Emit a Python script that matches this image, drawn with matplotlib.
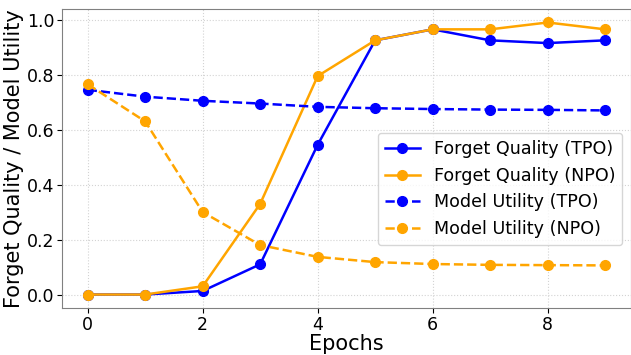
import matplotlib
matplotlib.use("Agg")
import matplotlib.pyplot as plt

epochs = [0, 1, 2, 3, 4, 5, 6, 7, 8, 9]
fq_tpo = [0.0, 0.0, 0.013, 0.11, 0.545, 0.925, 0.965, 0.925, 0.915, 0.925]
fq_npo = [0.0, 0.0, 0.03, 0.33, 0.795, 0.925, 0.965, 0.965, 0.99, 0.965]
mu_tpo = [0.745, 0.72, 0.705, 0.695, 0.683, 0.678, 0.675, 0.673, 0.672, 0.67]
mu_npo = [0.765, 0.63, 0.30, 0.18, 0.137, 0.118, 0.111, 0.108, 0.107, 0.106]

fig, ax = plt.subplots(figsize=(6.31, 3.55), dpi=100)
ax.plot(epochs, fq_tpo, color='blue', marker='o', markersize=7, linewidth=1.8, label='Forget Quality (TPO)')
ax.plot(epochs, fq_npo, color='orange', marker='o', markersize=7, linewidth=1.8, label='Forget Quality (NPO)')
ax.plot(epochs, mu_tpo, color='blue', marker='o', markersize=7, linewidth=1.8, linestyle='--', label='Model Utility (TPO)')
ax.plot(epochs, mu_npo, color='orange', marker='o', markersize=7, linewidth=1.8, linestyle='--', label='Model Utility (NPO)')

ax.set_xlabel('Epochs', fontsize=15, labelpad=0)
ax.set_ylabel('Forget Quality / Model Utility', fontsize=15, labelpad=2)
ax.tick_params(labelsize=12.5, pad=2)
ax.grid(True, linestyle=':', color='lightgray', linewidth=0.8)
for s in ax.spines.values():
    s.set_color('gray')
ax.legend(fontsize=12.6, loc='center right', bbox_to_anchor=(1.0, 0.398))

fig.subplots_adjust(left=0.098, right=1.0, top=0.975, bottom=0.132)
fig.savefig('out.png')
